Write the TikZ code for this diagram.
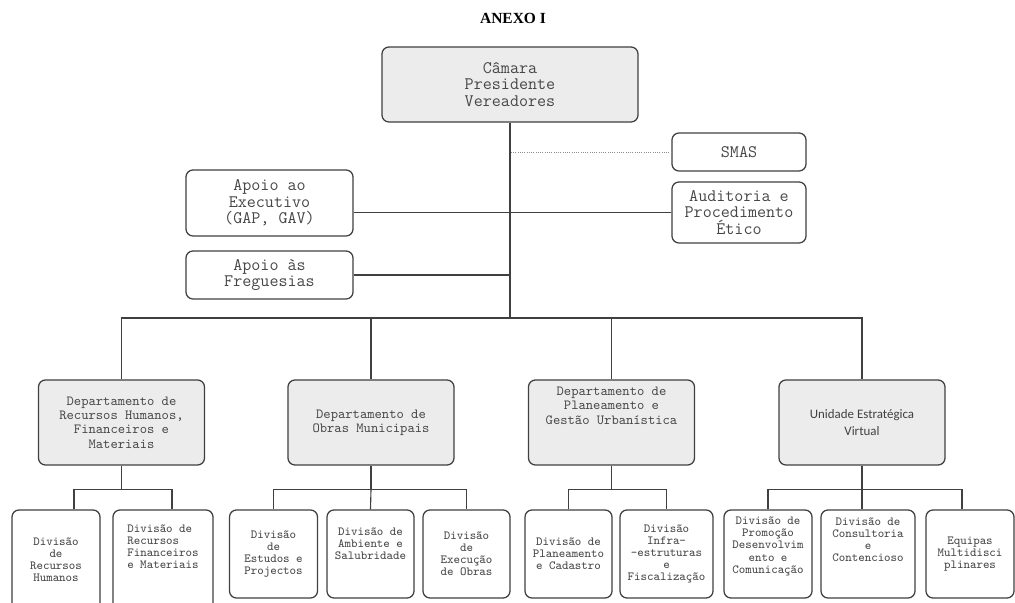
\documentclass[tikz,border=0pt]{standalone}
\usepackage{fontspec}
\setmainfont{Liberation Serif}
\newfontfamily\cali{Carlito}
\definecolor{linegray}{HTML}{404040}
\definecolor{boxgray}{HTML}{ECECEC}
\definecolor{textgray}{HTML}{474747}
\newcommand{\bigmono}{\ttfamily\fontsize{12.5}{11.6}\selectfont}
\newcommand{\midmono}{\ttfamily\fontsize{9.9}{10.2}\selectfont}
\newcommand{\smallmono}{\ttfamily\fontsize{8.8}{8.6}\selectfont}

\begin{document}
\begin{tikzpicture}[x=0.025cm,y=-0.025cm,line width=0.8pt]
    \tikzstyle{box}=[draw=linegray,line width=0.9pt,rounded corners=5pt,align=center,inner sep=0pt,text=textgray]
    \tikzstyle{head}=[box,fill=boxgray,font=\bigmono]
    \tikzstyle{staff}=[box,fill=white,font=\bigmono,minimum width=3.35cm]
    \tikzstyle{dept}=[box,fill=boxgray,font=\midmono,minimum width=4.15cm,minimum height=2.125cm]
    \tikzstyle{div}=[box,fill=white,font=\smallmono,minimum width=2.2cm,minimum height=2.2cm]
    \tikzstyle{link}=[draw=linegray]

    \useasboundingbox (0,0) rectangle (1015,603);
    \clip (0,0) rectangle (1015,603);

    \node[font=\bfseries\fontsize{11}{13}\selectfont] (title) at (513,18) {ANEXO I};

    % top of the chart
    \node[head,minimum width=6.4cm,minimum height=1.875cm] (camara) at (510,84.5) {Câmara\\Presidente\\Vereadores};
    \node[staff,minimum height=0.95cm] (smas) at (739,152) {SMAS};
    \node[staff,minimum height=1.525cm] (audit) at (739,212.5) {Auditoria e\\Procedimento\\Ético};
    \node[staff,minimum width=4.175cm,minimum height=1.65cm] (apoioexec) at (269.5,203) {Apoio ao\\Executivo\\(GAP, GAV)};
    \node[staff,minimum width=4.175cm,minimum height=1.2cm] (apoiofreg) at (269.5,275) {Apoio às\\Freguesias};

    % departments
    \node[dept] (d1) at (121.5,422.5) {Departamento de\\Recursos Humanos,\\Financeiros e\\Materiais};
    \node[dept] (d2) at (371,422.5) {Departamento de\\Obras Municipais};
    \node[dept] (d3) at (611.5,422.5) {Departamento de\\Planeamento e\\Gestão Urbanística\\[14pt]\mbox{}};
    \node[dept,font=\cali\fontsize{9.2}{12}\selectfont,text=black!75] (d4) at (862,422.5) {Unidade Estratégica\\Virtual};

    % divisions
    \node[div,minimum height=2.5cm] (d1a) at (56,560) {Divisão\\de\\Recursos\\Humanos};
    \node[div,minimum height=2.5cm,minimum width=2.5cm,align=left] (d1b) at (163,560) {Divisão de\\Recursos\\Financeiros\\e Materiais\\[10pt]\mbox{}};
    \node[div] (d2a) at (273.5,554) {Divisão\\de\\Estudos e\\Projectos};
    \node[div,minimum width=2.175cm] (d2b) at (370.5,554) {Divisão de\\Ambiente e\\Salubridade\\[6pt]\mbox{}};
    \node[div,minimum width=2.175cm] (d2c) at (466.5,554) {Divisão\\de\\Execução\\de Obras};
    \node[div,minimum width=2.175cm] (d3a) at (568.5,554) {Divisão de\\Planeamento\\e Cadastro};
    \node[div,minimum width=2.325cm] (d3b) at (666.5,554) {Divisão\\Infra-\\-estruturas\\e\\Fiscalização};
    \node[div] (d4a) at (768,554) {Divisão de\\Promoção\\Desenvolvim\\ento e\\Comunicação\\[4pt]\mbox{}};
    \node[div,minimum width=2.35cm] (d4b) at (868,554) {Divisão de\\Consultoria\\e\\Contencioso\\[12pt]\mbox{}};
    \node[div] (d4c) at (970,554) {Equipas\\Multidisci\\plinares};

    % connectors
    \coordinate (bus) at (510,318);
    \draw[link] (camara.south) -- (bus);
    \draw[link,densely dotted,draw=black!45,line width=0.6pt] (smas.west) -- (smas.west -| camara.south);
    \draw[link] (audit.west) -- (audit.west -| apoioexec.east);
    \draw[link] (apoiofreg.east) -- (apoiofreg.east -| camara.south);
    \draw[link] (d1.north) |- (bus) -| (d4.north);
    \foreach \d in {d2,d3}
        \draw[link] (\d.north) -- (\d.north |- bus);

    \foreach \d in {d1,d2,d3,d4}
        \draw[link] (\d.south) -- ++(0,24) coordinate (\d-bus);
    \draw[link] ([xshift=0.45cm]d1a.north) |- (d1-bus) -| ([xshift=0.225cm]d1b.north);
    \draw[link] (d2a.north) |- (d2-bus) -| (d2c.north);
    \draw[link] (d2-bus) -- (d2b.north);
    \draw[link] (d3a.north) |- (d3-bus) -| (d3b.north);
    \draw[link] (d4a.north) |- (d4-bus) -| ([xshift=-0.2cm]d4c.north);
    \draw[link] (d4-bus) -- (d4-bus |- d4b.north);
\end{tikzpicture}
\end{document}
